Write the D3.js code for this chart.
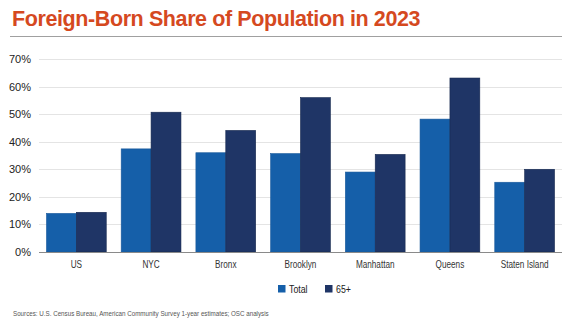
<!DOCTYPE html>
<html>
<head>
<meta charset="utf-8">
<script src="https://cdn.jsdelivr.net/npm/d3@7"></script>
<style>
  body { margin: 0; background: #fff; }
  svg { display: block; }
</style>
</head>
<body>
<div id="chart"></div>
<script>
const categories = ['US', 'NYC', 'Bronx', 'Brooklyn', 'Manhattan', 'Queens', 'Staten Island']
const total = [14.0, 37.4, 36.0, 35.7, 29.0, 48.2, 25.3]
const age65 = [14.4, 50.7, 44.1, 56.0, 35.4, 63.1, 30.0]
const series = ['Total', '65+']
const yTicks = [0, 10, 20, 30, 40, 50, 60, 70]

init()

function init(){
    const width = 570, height = 323
    const colors = ['#155fa9', '#1f3566']
    const font = 'Liberation Sans, Arial, sans-serif'

    let svg = d3.select('#chart')
                .append('svg')
                .attr('width', width)
                .attr('height', height)

    // title + rule
    svg.append('text')
        .attr('x', 12)
        .attr('y', 26)
        .style('font-family', font)
        .style('font-weight', 'bold')
        .style('font-size', '21.5px')
        .style('fill', '#d5491f')
        .style('letter-spacing', '-0.4px')
        .text('Foreign-Born Share of Population in 2023')

    svg.append('line')
        .attr('x1', 10).attr('x2', 562)
        .attr('y1', 36.5).attr('y2', 36.5)
        .style('stroke', '#a0a0a0')
        .style('stroke-width', 1)

    const x = d3.scaleBand()
        .domain(categories)
        .range([39, 562])
        .paddingInner(0.2)
        .paddingOuter(0.1)

    const x1 = d3.scaleBand()
        .domain(series)
        .range([0, x.bandwidth()])

    const y = d3.scaleLinear()
        .domain([0, 70])
        .range([252, 59])

    // gridlines
    svg.append('g')
        .selectAll('line')
        .data(yTicks.filter(d => d > 0))
        .join('line')
        .attr('x1', 39).attr('x2', 562)
        .attr('y1', d => Math.round(y(d)) + 0.5)
        .attr('y2', d => Math.round(y(d)) + 0.5)
        .style('stroke', '#e4e4e4')
        .style('stroke-width', 1)

    // y axis labels
    let yAxis = svg.append('g')
        .attr('transform', 'translate(31,0)')
        .call(d3.axisLeft(y).tickValues(yTicks).tickFormat(d => d + '%').tickSize(0).tickPadding(0))
    yAxis.select('.domain').remove()
    yAxis.selectAll('text')
        .style('font-family', font)
        .style('font-size', '11px')
        .style('fill', '#222')

    // bars
    const rows = categories.map((c, i) => ({ cat: c, vals: [total[i], age65[i]] }))
    let groups = svg.append('g')
        .selectAll('g')
        .data(rows)
        .join('g')
        .attr('transform', d => `translate(${x(d.cat)},0)`)

    groups.selectAll('rect')
        .data(d => d.vals.map((v, j) => ({ s: series[j], v: v, j: j })))
        .join('rect')
        .attr('x', d => x1(d.s))
        .attr('y', d => y(d.v))
        .attr('width', x1.bandwidth())
        .attr('height', d => y(0) - y(d.v))
        .style('fill', d => colors[d.j])
        .style('stroke', d => d.j == 1 ? '#16284f' : '#1a5a9c')
        .style('stroke-width', 0.6)

    // x axis (narrow labels, squeezed horizontally)
    let xAxis = svg.append('g')
        .attr('transform', 'translate(0,252)')
        .call(d3.axisBottom(x).tickSize(0).tickPadding(9))
    xAxis.select('.domain')
        .attr('d', 'M39,0.5H562')
        .style('stroke', '#8a8a8a')
        .style('stroke-width', 1.2)
    xAxis.selectAll('text')
        .attr('transform', 'scale(0.78,1)')
        .style('font-family', font)
        .style('font-size', '10.5px')
        .style('fill', '#333')

    // legend
    const legendX = [278, 325]
    let legend = svg.append('g')
        .selectAll('g')
        .data(series)
        .join('g')
        .attr('transform', (d, i) => `translate(${legendX[i]},285)`)
    legend.append('rect')
        .attr('width', 7.5).attr('height', 7.5)
        .style('fill', (d, i) => colors[i])
    legend.append('text')
        .attr('transform', 'translate(11,8) scale(0.8,1)')
        .style('font-family', font)
        .style('font-size', '11px')
        .style('fill', '#222')
        .text(d => d)

    // source
    svg.append('text')
        .attr('transform', 'translate(13,316) scale(0.8,1)')
        .style('font-family', font)
        .style('font-size', '7.8px')
        .style('fill', '#555')
        .text('Sources: U.S. Census Bureau, American Community Survey 1-year estimates; OSC analysis')
}
</script>
</body>
</html>
